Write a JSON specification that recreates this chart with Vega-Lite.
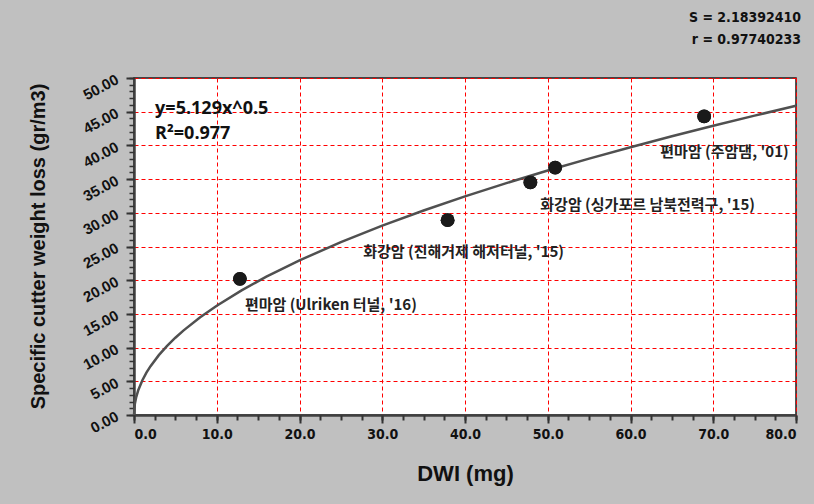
{
  "$schema": "https://vega.github.io/schema/vega-lite/v6.json",
  "width": 662,
  "height": 337,
  "autosize": "none",
  "padding": {"left": 134, "top": 78, "right": 18, "bottom": 89},
  "background": "#c0c0c0",
  "view": {"fill": "white", "stroke": "#1a1a1a", "strokeWidth": 1.5},
  "title": {
    "text": ["S = 2.18392410", "r = 0.97740233"],
    "anchor": "end",
    "font": "DejaVu Sans Condensed",
    "fontSize": 14,
    "fontWeight": "bold",
    "color": "#111111",
    "lineHeight": 22,
    "offset": 25
  },
  "datasets": {
    "points": [
      {"dwi": 12.8, "loss": 20.2, "label": "편마암 (Ulriken 터널, '16)", "label_x": 13.4, "label_y": 16.3},
      {"dwi": 37.9, "loss": 28.9, "label": "화강암 (진해거제 해저터널, '15)", "label_x": 27.7, "label_y": 24.2},
      {"dwi": 47.9, "loss": 34.5, "label": "화강암 (싱가포르 남북전력구, '15)", "label_x": 49.1, "label_y": 31.2},
      {"dwi": 50.9, "loss": 36.7, "label": "", "label_x": 50.9, "label_y": 36.7},
      {"dwi": 68.9, "loss": 44.3, "label": "편마암 (주암댐, '01)", "label_x": 63.6, "label_y": 39.0}
    ],
    "curve": [
      {"dwi": 0, "loss": 0},
      {"dwi": 0.1, "loss": 1.62},
      {"dwi": 0.25, "loss": 2.56},
      {"dwi": 0.5, "loss": 3.63},
      {"dwi": 1, "loss": 5.13},
      {"dwi": 1.5, "loss": 6.28},
      {"dwi": 2, "loss": 7.25},
      {"dwi": 3, "loss": 8.88},
      {"dwi": 4, "loss": 10.26},
      {"dwi": 5, "loss": 11.47},
      {"dwi": 6, "loss": 12.56},
      {"dwi": 8, "loss": 14.51},
      {"dwi": 10, "loss": 16.22},
      {"dwi": 13, "loss": 18.49},
      {"dwi": 16, "loss": 20.52},
      {"dwi": 20, "loss": 22.94},
      {"dwi": 25, "loss": 25.65},
      {"dwi": 30, "loss": 28.09},
      {"dwi": 35, "loss": 30.34},
      {"dwi": 40, "loss": 32.44},
      {"dwi": 45, "loss": 34.41},
      {"dwi": 50, "loss": 36.27},
      {"dwi": 55, "loss": 38.04},
      {"dwi": 60, "loss": 39.73},
      {"dwi": 65, "loss": 41.35},
      {"dwi": 70, "loss": 42.91},
      {"dwi": 75, "loss": 44.42},
      {"dwi": 80, "loss": 45.88}
    ],
    "equation": [
      {"x": 2.55, "y": 45.4, "text": "y=5.129x^0.5"},
      {"x": 2.55, "y": 41.7, "text": "R²=0.977"}
    ]
  },
  "resolve": {"axis": {"x": "independent", "y": "independent"}},
  "layer": [
    {
      "data": {"name": "points"},
      "mark": {"type": "circle", "size": 190, "color": "#1a1a1a", "opacity": 1},
      "encoding": {
        "x": {
          "field": "dwi", "type": "quantitative",
          "scale": {"domain": [0, 80], "nice": false},
          "axis": {
            "orient": "bottom",
            "title": "DWI (mg)",
            "values": [0,10,20,30,40,50,60,70,80],
            "format": ".1f",
            "grid": true, "gridDash": [4, 3], "gridColor": "red",
            "domainColor": "#404040", "domainWidth": 2.5,
            "tickSize": 8, "tickColor": "#333333", "tickWidth": 2,
            "labelFont": "DejaVu Sans Condensed", "labelFontSize": 14, "labelFontWeight": "bold", "labelColor": "#111111",
            "labelPadding": 4,
            "titleFont": "Liberation Sans", "titleFontSize": 22, "titleFontWeight": "bold", "titleColor": "#111111",
            "titleY": 58, "titleBaseline": "middle"
          }
        },
        "y": {
          "field": "loss", "type": "quantitative",
          "scale": {"domain": [0, 50], "nice": false},
          "axis": {
            "orient": "left",
            "title": "Specific cutter weight loss (gr/m3)",
            "values": [0,5,10,15,20,25,30,35,40,45,50],
            "format": ".2f",
            "grid": true, "gridDash": [4, 3], "gridColor": "red",
            "domainColor": "#404040", "domainWidth": 2.5,
            "tickSize": 8, "tickColor": "#333333", "tickWidth": 2,
            "labelFont": "Liberation Sans", "labelFontSize": 15, "labelFontWeight": "bold", "labelColor": "#111111",
            "labelAngle": -28, "labelAlign": "right", "labelBaseline": "middle", "labelPadding": 9,
            "titleFont": "Liberation Sans", "titleFontSize": 20, "titleFontWeight": "bold", "titleColor": "#111111",
            "titleX": -96, "titleY": 168, "titleBaseline": "middle", "titleAngle": -90, "titleAlign": "center"
          }
        }
      }
    },
    {
      "data": {"name": "curve"},
      "mark": {"type": "line", "color": "#505050", "strokeWidth": 2.5},
      "encoding": {
        "x": {
          "field": "dwi", "type": "quantitative",
          "scale": {"domain": [0, 80], "nice": false},
          "axis": {
            "orient": "bottom", "title": null, "labels": false, "grid": false, "domain": false,
            "values": [0,2.5,5,7.5,10,12.5,15,17.5,20,22.5,25,27.5,30,32.5,35,37.5,40,42.5,45,47.5,50,52.5,55,57.5,60,62.5,65,67.5,70,72.5,75,77.5,80],
            "tickSize": 5, "tickColor": "#333333", "tickWidth": 2
          }
        },
        "y": {
          "field": "loss", "type": "quantitative",
          "scale": {"domain": [0, 50], "nice": false},
          "axis": {
            "orient": "left", "title": null, "labels": false, "grid": false, "domain": false,
            "values": [0,1,2,3,4,5,6,7,8,9,10,11,12,13,14,15,16,17,18,19,20,21,22,23,24,25,26,27,28,29,30,31,32,33,34,35,36,37,38,39,40,41,42,43,44,45,46,47,48,49,50],
            "tickSize": 5, "tickColor": "#333333", "tickWidth": 1.5
          }
        }
      }
    },
    {
      "data": {"name": "points"},
      "mark": {"type": "circle", "size": 190, "color": "#1a1a1a", "opacity": 1},
      "encoding": {
        "x": {"field": "dwi", "type": "quantitative", "scale": {"domain": [0, 80], "nice": false}, "axis": null},
        "y": {"field": "loss", "type": "quantitative", "scale": {"domain": [0, 50], "nice": false}, "axis": null}
      }
    },
    {
      "data": {"name": "points"},
      "mark": {"type": "text", "align": "left", "baseline": "middle", "font": "Noto Sans CJK KR", "fontSize": 15, "fontWeight": "bold", "color": "#222222", "clip": true},
      "encoding": {
        "x": {"field": "label_x", "type": "quantitative", "scale": {"domain": [0, 80], "nice": false}, "axis": null},
        "y": {"field": "label_y", "type": "quantitative", "scale": {"domain": [0, 50], "nice": false}, "axis": null},
        "text": {"field": "label"}
      }
    },
    {
      "data": {"name": "equation"},
      "mark": {"type": "text", "align": "left", "baseline": "middle", "font": "Open Sans", "fontSize": 18, "fontWeight": "bold", "color": "#111111"},
      "encoding": {
        "x": {"field": "x", "type": "quantitative", "scale": {"domain": [0, 80], "nice": false}, "axis": null},
        "y": {"field": "y", "type": "quantitative", "scale": {"domain": [0, 50], "nice": false}, "axis": null},
        "text": {"field": "text"}
      }
    }
  ]
}
